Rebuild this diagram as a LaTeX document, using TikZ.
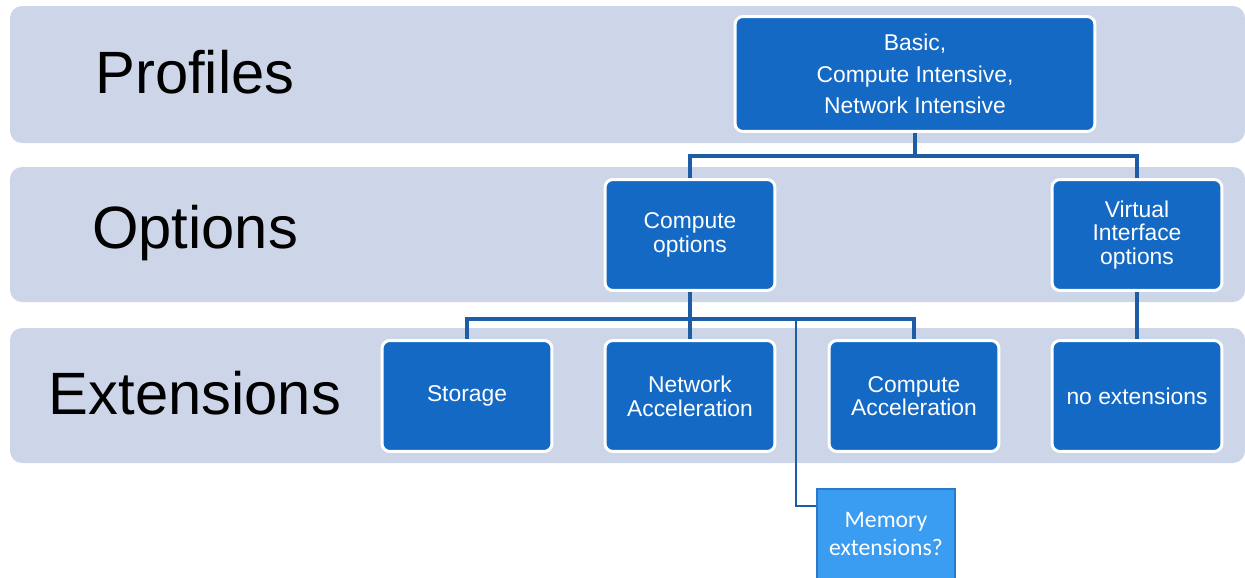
\documentclass[tikz,border=0pt]{standalone}
\usepackage{fontspec}
\setmainfont{Liberation Sans}
\newfontfamily\memfont{Carlito}
\definecolor{bandgray}{HTML}{CDD5E8}
\definecolor{boxblue}{HTML}{1469C4}
\definecolor{linkblue}{HTML}{1D5DA6}
\definecolor{memblue}{HTML}{3A9DF2}
\definecolor{memedge}{HTML}{2C7AC6}
\tikzset{
  band/.style = {fill=bandgray, rounded corners=0.24cm},
  rowlabel/.style = {font=\fontsize{34}{36}\selectfont, text=black},
  item/.style = {rectangle, rounded corners=0.16cm, fill=boxblue, draw=white,
                 line width=1.7pt, text=white, align=center,
                 minimum width=#1, minimum height=2.22cm,
                 font=\fontsize{13}{13.5}\selectfont},
  item/.default = 3.4cm,
  link/.style = {draw=linkblue, line width=2.3pt}
}

\begin{document}
\begin{tikzpicture}[x=0.02cm, y=-0.02cm]
	\clip (0,0) rectangle (1245,578);

	% Bands
	\fill[band] (10,6)   rectangle (1245,143); % profiles
	\fill[band] (10,167) rectangle (1245,302); % options
	\fill[band] (10,328) rectangle (1245,463); % extensions

	% Row labels
	\node[rowlabel] (lprof) at (195,72)  {Profiles};
	\node[rowlabel] (lopt)  at (195,233) {Options};
	\node[rowlabel] (lext)  at (195,393) {Extensions};

	% Profiles
	\node[item=7.2cm, minimum height=2.3cm, font=\fontsize{13}{18}\selectfont] (profile) at (915,74)
		{Basic,\\Compute Intensive,\\Network Intensive};

	% Options
	\node[item] (compopt) at (690,235)  {Compute\\options};
	\node[item] (virtopt) at (1137,235) {Virtual\\Interface\\options};

	% Extensions
	\node[item] (storage) at (467,396)  {Storage};
	\node[item] (netacc)  at (690,396)  {Network\\Acceleration};
	\node[item] (compacc) at (914,396)  {Compute\\Acceleration};
	\node[item] (noext)   at (1137,396) {no extensions};

	% Memory (question)
	\node[rectangle, fill=memblue, draw=memedge, line width=1pt, text=white,
		minimum width=2.76cm, inner ysep=0.47cm, align=center,
		font=\memfont\fontsize{13.5}{15.5}\selectfont] (memory) at (886,534)
		{Memory\\extensions?};

	% Links
	\draw[link] (profile.south) -- ++(0,23) -| (compopt.north);
	\draw[link] (profile.south) -- ++(0,23) -| (virtopt.north);
	\draw[link] (compopt.south) -- ++(0,27) -| (storage.north);
	\draw[link] (compopt.south) -- (netacc.north);
	\draw[link] (compopt.south) -- ++(0,27) -| (compacc.north);
	\draw[link] (virtopt.south) -- (noext.north);

	\coordinate (tap) at (796,318);
	\draw[draw=linkblue, line width=1.1pt] (tap) |- ([yshift=-0.36cm]memory.north west);

\end{tikzpicture}
\end{document}
